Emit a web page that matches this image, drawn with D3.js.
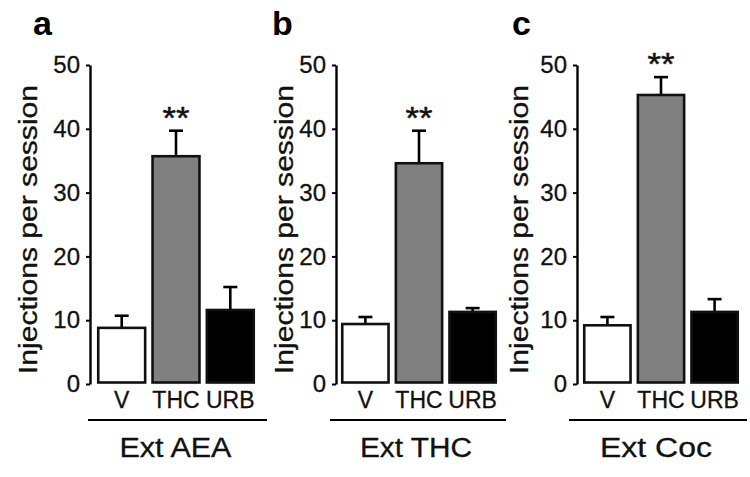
<!DOCTYPE html>
<html>
<head>
<meta charset="utf-8">
<script src="https://cdn.jsdelivr.net/npm/d3@7"></script>
<style>
  html, body { margin: 0; padding: 0; background: #fff; }
  svg { display: block; font-family: "Liberation Sans", Arial, Helvetica, sans-serif; }
</style>
</head>
<body>
<svg id="chart" width="750" height="477"></svg>
<script>
// ---- data ----
const categories = ["V", "THC", "URB"];
const panelLetters = ["a", "b", "c"];
const groupLabels = ["Ext AEA", "Ext THC", "Ext Coc"];
const meansA = [8.8, 35.7, 11.6];
const semA   = [1.9, 4.0, 3.6];
const meansB = [9.4, 34.6, 11.3];
const semB   = [1.1, 5.1, 0.6];
const meansC = [9.2, 45.3, 11.3];
const semC   = [1.3, 2.8, 2.0];
const significance = ["", "**", ""];
const yTicks = [0, 10, 20, 30, 40, 50];
const yLabel = "Injections per session";
const barFills = ["#ffffff", "#808080", "#000000"];

const panelMeans = [meansA, meansB, meansC];
const panelSems = [semA, semB, semC];

// ---- layout ----
const layout = [
  { axisX: 90,  barRange: [97, 255],  line: [88, 267],  labelX: 37,  letterX: 33 },
  { axisX: 336, barRange: [341, 497], line: [330, 506], labelX: 293, letterX: 272 },
  { axisX: 577, barRange: [583, 739], line: [569, 747], labelX: 528, letterX: 512 }
];
const yTop = 65, yBottom = 384;
const ink = "#111";

const svg = d3.select("#chart");
const y = d3.scaleLinear().domain([0, 50]).range([yBottom, yTop]);

layout.forEach((L, p) => {
  const g = svg.append("g");
  const x = d3.scaleBand().domain(categories).range(L.barRange).paddingInner(0.09).paddingOuter(0);

  // panel letter
  g.append("text").attr("x", L.letterX).attr("y", 35)
    .attr("font-size", 34).attr("font-weight", "bold").attr("fill", "#000").text(panelLetters[p]);

  // y axis
  const ax = g.append("g").attr("transform", `translate(${L.axisX},0)`)
    .call(d3.axisLeft(y).tickValues(yTicks).tickSize(4).tickSizeOuter(0).tickPadding(6));
  ax.select(".domain").attr("stroke", "#000").attr("stroke-width", 2.4);
  ax.selectAll(".tick line").attr("stroke", "#000").attr("stroke-width", 2);
  ax.selectAll(".tick text").attr("font-size", 24).attr("fill", ink)
    .attr("stroke", ink).attr("stroke-width", 0.3)
    .attr("font-family", "Liberation Sans, Arial, sans-serif");

  // y label
  g.append("text")
    .attr("transform", `translate(${L.labelX},${(yTop + yBottom) / 2 + 5}) rotate(-90)`)
    .attr("text-anchor", "middle").attr("font-size", 25)
    .attr("textLength", 289).attr("lengthAdjust", "spacingAndGlyphs")
    .attr("fill", ink).attr("stroke", ink).attr("stroke-width", 0.3).text(yLabel);

  const means = panelMeans[p], sems = panelSems[p];
  const data = categories.map((c, i) => ({ c, m: means[i], s: sems[i], f: barFills[i], sig: significance[i] }));

  // error bars
  const eb = g.selectAll(".eb").data(data).enter().append("g");
  eb.append("line")
    .attr("x1", d => x(d.c) + x.bandwidth() / 2).attr("x2", d => x(d.c) + x.bandwidth() / 2)
    .attr("y1", d => y(d.m)).attr("y2", d => y(d.m + d.s))
    .attr("stroke", "#000").attr("stroke-width", 2.6);
  eb.append("line")
    .attr("x1", d => x(d.c) + x.bandwidth() / 2 - 7).attr("x2", d => x(d.c) + x.bandwidth() / 2 + 7)
    .attr("y1", d => y(d.m + d.s)).attr("y2", d => y(d.m + d.s))
    .attr("stroke", "#000").attr("stroke-width", 2.6);

  // bars
  g.selectAll(".bar").data(data).enter().append("rect")
    .attr("x", d => x(d.c) + 1.25).attr("width", x.bandwidth() - 2.5)
    .attr("y", d => y(d.m)).attr("height", d => y(0) - 1.5 - y(d.m))
    .attr("fill", d => d.f).attr("stroke", ink).attr("stroke-width", 2.6);

  // significance
  g.selectAll(".sig").data(data.filter(d => d.sig)).enter().append("text")
    .attr("x", d => x(d.c) + x.bandwidth() / 2).attr("y", d => y(d.m + d.s) - 2)
    .attr("text-anchor", "middle").attr("font-size", 32)
    .attr("textLength", 27).attr("lengthAdjust", "spacingAndGlyphs")
    .attr("fill", ink).attr("stroke", ink).attr("stroke-width", 0.5).text(d => d.sig);

  // category labels
  g.selectAll(".cat").data(data).enter().append("text")
    .attr("x", d => x(d.c) + x.bandwidth() / 2).attr("y", 408)
    .attr("text-anchor", "middle").attr("font-size", 23)
    .attr("fill", ink).attr("stroke", ink).attr("stroke-width", 0.3).text(d => d.c);

  // group line and label
  g.append("line").attr("x1", L.line[0]).attr("x2", L.line[1]).attr("y1", 420).attr("y2", 420)
    .attr("stroke", "#000").attr("stroke-width", 2.2);
  g.append("text").attr("x", (L.line[0] + L.line[1]) / 2 - 2).attr("y", 457)
    .attr("text-anchor", "middle").attr("font-size", 27)
    .attr("textLength", 112).attr("lengthAdjust", "spacingAndGlyphs")
    .attr("fill", ink).attr("stroke", ink).attr("stroke-width", 0.3).text(groupLabels[p]);
});
</script>
</body>
</html>
